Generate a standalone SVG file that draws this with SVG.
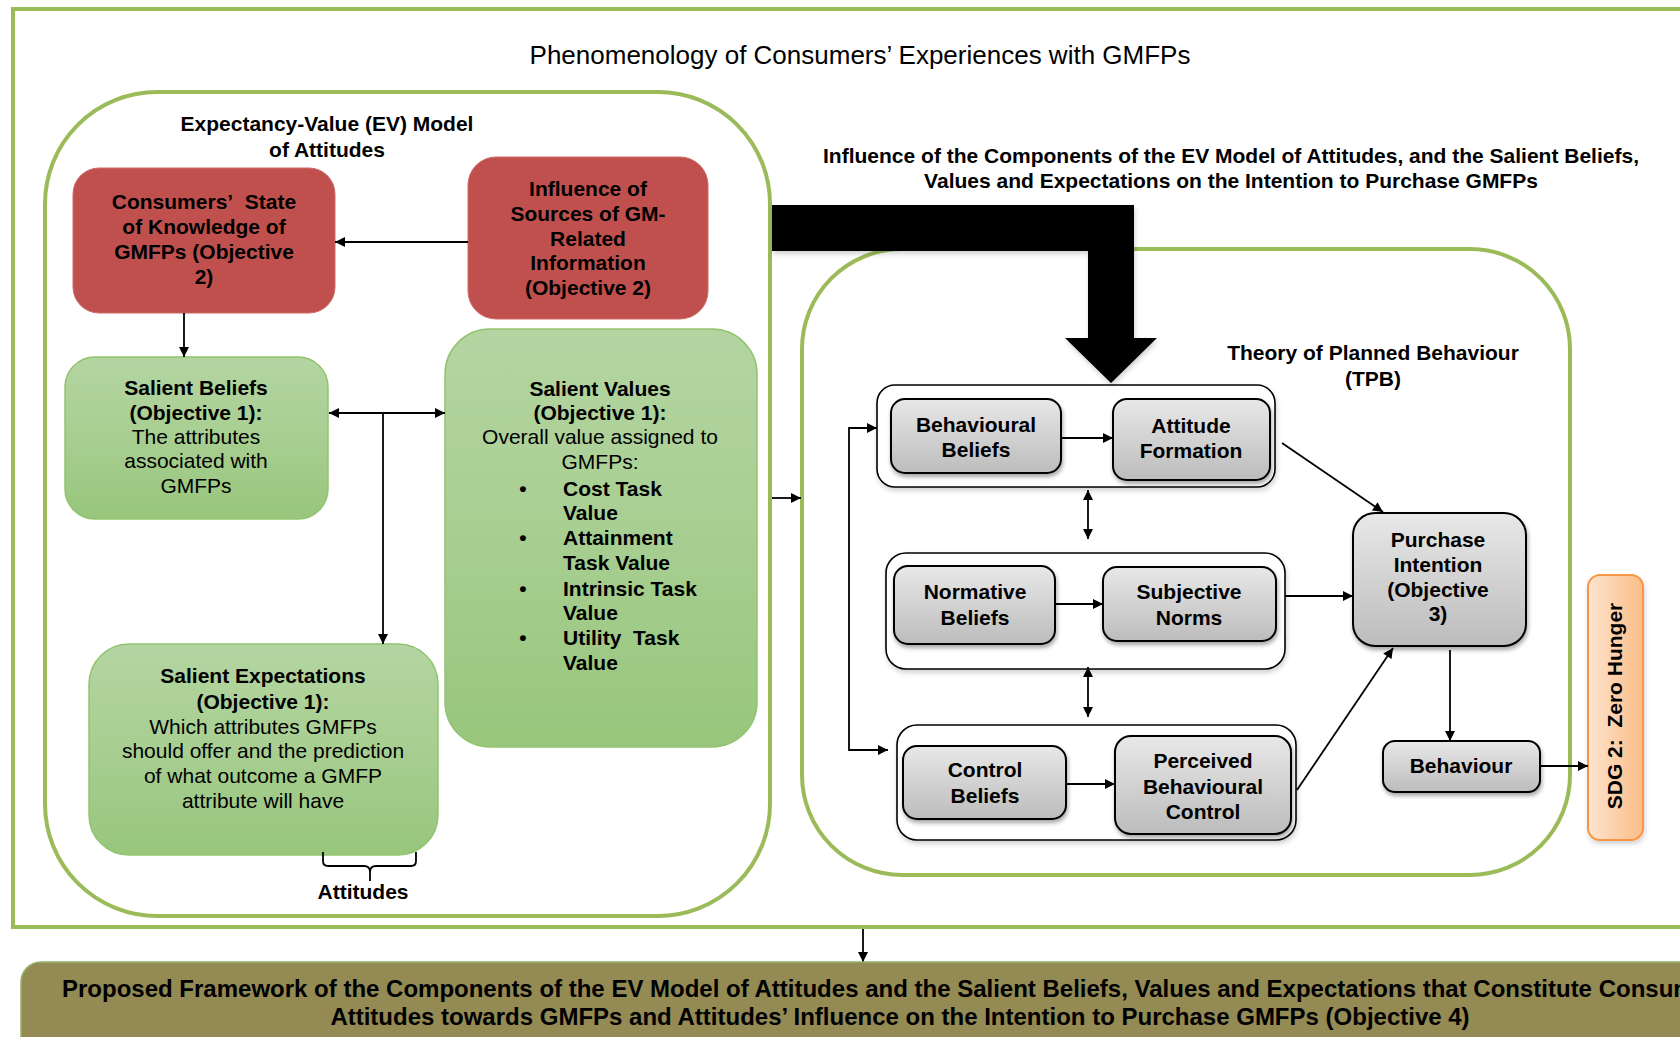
<svg xmlns="http://www.w3.org/2000/svg" width="1680" height="1037" viewBox="0 0 1680 1037">
  <defs>
    <style>
      text { font-family: "Liberation Sans", Arial, Helvetica, sans-serif; fill: #000; }
      .b { font-weight: bold; font-size: 21px; }
      .r { font-size: 21px; }
      .big { font-weight: bold; font-size: 24px; }
      .mid { text-anchor: middle; }
      .frame { fill: none; stroke: #9bbb59; stroke-width: 4; }
      .red { fill: #c0504d; stroke: #cc6a67; stroke-width: 1; }
      .green { fill: url(#greenGrad); stroke: #92c36f; stroke-width: 1.5; }
      .gray { fill: url(#grayGrad); stroke: #000; stroke-width: 2; filter: url(#shadow); }
      .grp { fill: #fff; stroke: #000; stroke-width: 1.6; filter: url(#shadowLight); }
      .conn { fill: none; stroke: #000; stroke-width: 1.8; }
    </style>
    <linearGradient id="greenGrad" x1="0" y1="0" x2="0" y2="1">
      <stop offset="0" stop-color="#b4d5a2"/>
      <stop offset="0.45" stop-color="#a9cf93"/>
      <stop offset="1" stop-color="#98c67c"/>
    </linearGradient>
    <linearGradient id="grayGrad" x1="0" y1="0" x2="0" y2="1">
      <stop offset="0" stop-color="#e8e8e8"/>
      <stop offset="1" stop-color="#bcbcbc"/>
    </linearGradient>
    <linearGradient id="orangeGrad" x1="0" y1="0" x2="1" y2="0">
      <stop offset="0" stop-color="#fde4cf"/>
      <stop offset="1" stop-color="#fbbd87"/>
    </linearGradient>
    <filter id="shadow" x="-10%" y="-10%" width="130%" height="140%">
      <feDropShadow dx="1" dy="3" stdDeviation="2" flood-color="#000" flood-opacity="0.35"/>
    </filter>
    <filter id="shadowLight" x="-10%" y="-10%" width="130%" height="140%">
      <feDropShadow dx="1" dy="3" stdDeviation="2.5" flood-color="#000" flood-opacity="0.18"/>
    </filter>
    <marker id="ah" viewBox="0 0 10 10" refX="10" refY="5" markerWidth="11" markerHeight="10" markerUnits="userSpaceOnUse" orient="auto-start-reverse">
      <path d="M0,0 L10,5 L0,10 z" fill="#000"/>
    </marker>
  </defs>

  <rect width="1680" height="1037" fill="#fff"/>

  <!-- outer frame -->
  <g id="phenomenology-frame">
    <rect class="frame" x="13" y="9" width="1700" height="918"/>
    <text x="860" y="64" class="mid" font-size="26">Phenomenology of Consumers’ Experiences with GMFPs</text>
  </g>

  <!-- Expectancy-Value model container -->
  <g id="ev-model">
    <rect class="frame" x="45" y="92" width="725" height="824" rx="112"/>
    <text class="b mid" x="327" y="131">Expectancy-Value (EV) Model</text>
    <text class="b mid" x="327" y="157">of Attitudes</text>
  </g>

  <g id="state-of-knowledge">
    <rect class="red" x="73" y="168" width="262" height="145" rx="26"/>
    <text class="b mid" x="204" y="209">Consumers’&#160; State</text>
    <text class="b mid" x="204" y="234">of Knowledge of</text>
    <text class="b mid" x="204" y="259">GMFPs (Objective</text>
    <text class="b mid" x="204" y="284">2)</text>
  </g>

  <g id="sources-of-information">
    <rect class="red" x="468" y="157" width="240" height="162" rx="28"/>
    <text class="b mid" x="588" y="196">Influence of</text>
    <text class="b mid" x="588" y="221">Sources of GM-</text>
    <text class="b mid" x="588" y="246">Related</text>
    <text class="b mid" x="588" y="270">Information</text>
    <text class="b mid" x="588" y="295">(Objective 2)</text>
  </g>

  <g id="salient-beliefs">
    <rect class="green" x="65" y="357" width="263" height="162" rx="30"/>
    <text class="b mid" x="196" y="395">Salient Beliefs</text>
    <text class="b mid" x="196" y="420">(Objective 1):</text>
    <text class="r mid" x="196" y="444">The attributes</text>
    <text class="r mid" x="196" y="468">associated with</text>
    <text class="r mid" x="196" y="493">GMFPs</text>
  </g>

  <g id="salient-values">
    <rect class="green" x="445" y="329" width="312" height="418" rx="45"/>
    <text class="b mid" x="600" y="396">Salient Values</text>
    <text class="b mid" x="600" y="420">(Objective 1):</text>
    <text class="r mid" x="600" y="444">Overall value assigned to</text>
    <text class="r mid" x="600" y="469">GMFPs:</text>
    <g class="b">
      <text x="523" y="496" class="mid">•</text>
      <text x="563" y="496">Cost Task</text>
      <text x="563" y="520">Value</text>
      <text x="523" y="545" class="mid">•</text>
      <text x="563" y="545">Attainment</text>
      <text x="563" y="570">Task Value</text>
      <text x="523" y="596" class="mid">•</text>
      <text x="563" y="596">Intrinsic Task</text>
      <text x="563" y="620">Value</text>
      <text x="523" y="645" class="mid">•</text>
      <text x="563" y="645">Utility&#160; Task</text>
      <text x="563" y="670">Value</text>
    </g>
  </g>

  <g id="salient-expectations">
    <rect class="green" x="89" y="644" width="349" height="211" rx="40"/>
    <text class="b mid" x="263" y="683">Salient Expectations</text>
    <text class="b mid" x="263" y="709">(Objective 1):</text>
    <text class="r mid" x="263" y="734">Which attributes GMFPs</text>
    <text class="r mid" x="263" y="758">should offer and the prediction</text>
    <text class="r mid" x="263" y="783">of what outcome a GMFP</text>
    <text class="r mid" x="263" y="808">attribute will have</text>
  </g>

  <g id="attitudes-brace">
    <path d="M323,852 V861 Q323,866 328,866 H364 Q370,866 370,872 V881 M370,872 Q370,866 376,866 H411 Q416,866 416,861 V852" fill="none" stroke="#000" stroke-width="1.8"/>
    <text class="b mid" x="363" y="899">Attitudes</text>
  </g>

  <!-- header of the TPB side -->
  <g id="influence-heading">
    <text class="b mid" x="1231" y="163">Influence of the Components of the EV Model of Attitudes, and the Salient Beliefs,</text>
    <text class="b mid" x="1231" y="188">Values and Expectations on the Intention to Purchase GMFPs</text>
  </g>

  <!-- Theory of Planned Behaviour container -->
  <g id="tpb">
    <rect class="frame" x="802" y="249" width="768" height="626" rx="100"/>
    <text class="b mid" x="1373" y="360">Theory of Planned Behaviour</text>
    <text class="b mid" x="1373" y="386">(TPB)</text>
  </g>

  <g id="attitude-group">
    <rect class="grp" x="877" y="385" width="398" height="102" rx="18"/>
  </g>
  <g id="behavioural-beliefs">
    <rect class="gray" x="891" y="399" width="170" height="74" rx="14"/>
    <text class="b mid" x="976" y="432">Behavioural</text>
    <text class="b mid" x="976" y="457">Beliefs</text>
  </g>
  <g id="attitude-formation">
    <rect class="gray" x="1113" y="399" width="157" height="81" rx="14"/>
    <text class="b mid" x="1191" y="433">Attitude</text>
    <text class="b mid" x="1191" y="458">Formation</text>
  </g>

  <g id="norms-group">
    <rect class="grp" x="886" y="553" width="399" height="116" rx="20"/>
  </g>
  <g id="normative-beliefs">
    <rect class="gray" x="894" y="566" width="161" height="78" rx="14"/>
    <text class="b mid" x="975" y="599">Normative</text>
    <text class="b mid" x="975" y="625">Beliefs</text>
  </g>
  <g id="subjective-norms">
    <rect class="gray" x="1103" y="567" width="173" height="74" rx="14"/>
    <text class="b mid" x="1189" y="599">Subjective</text>
    <text class="b mid" x="1189" y="625">Norms</text>
  </g>

  <g id="control-group">
    <rect class="grp" x="897" y="725" width="399" height="115" rx="20"/>
  </g>
  <g id="control-beliefs">
    <rect class="gray" x="903" y="746" width="163" height="73" rx="14"/>
    <text class="b mid" x="985" y="777">Control</text>
    <text class="b mid" x="985" y="803">Beliefs</text>
  </g>
  <g id="perceived-control">
    <rect class="gray" x="1115" y="736" width="176" height="98" rx="16"/>
    <text class="b mid" x="1203" y="768">Perceived</text>
    <text class="b mid" x="1203" y="794">Behavioural</text>
    <text class="b mid" x="1203" y="819">Control</text>
  </g>

  <g id="purchase-intention">
    <rect class="gray" x="1353" y="513" width="173" height="133" rx="22"/>
    <text class="b mid" x="1438" y="547">Purchase</text>
    <text class="b mid" x="1438" y="572">Intention</text>
    <text class="b mid" x="1438" y="597">(Objective</text>
    <text class="b mid" x="1438" y="621">3)</text>
  </g>

  <g id="behaviour">
    <rect class="gray" x="1383" y="741" width="157" height="51" rx="12"/>
    <text class="b mid" x="1461" y="773">Behaviour</text>
  </g>

  <g id="sdg2">
    <rect x="1588" y="575" width="55" height="265" rx="12" fill="url(#orangeGrad)" stroke="#f79646" stroke-width="2" filter="url(#shadowLight)"/>
    <text class="b mid" transform="translate(1622 706) rotate(-90)">SDG 2:&#160; Zero Hunger</text>
  </g>

  <!-- connectors -->
  <g id="connectors">
    <line class="conn" x1="468" y1="242" x2="335" y2="242" marker-end="url(#ah)"/>
    <line class="conn" x1="184" y1="313" x2="184" y2="357" marker-end="url(#ah)"/>
    <line class="conn" x1="329" y1="413" x2="445" y2="413" marker-start="url(#ah)" marker-end="url(#ah)"/>
    <line class="conn" x1="383" y1="413" x2="383" y2="644" marker-end="url(#ah)"/>
    <line class="conn" x1="772" y1="498" x2="801" y2="498" marker-end="url(#ah)"/>
    <polygon points="772,205 1134,205 1134,338 1157,338 1111,383 1065,338 1088,338 1088,251 772,251" fill="#000" filter="url(#shadowLight)"/>
    <line class="conn" x1="1061" y1="438" x2="1113" y2="438" marker-end="url(#ah)"/>
    <line class="conn" x1="1282" y1="443" x2="1383" y2="512" marker-end="url(#ah)"/>
    <line class="conn" x1="1088" y1="490" x2="1088" y2="539" marker-start="url(#ah)" marker-end="url(#ah)"/>
    <line class="conn" x1="1055" y1="604" x2="1103" y2="604" marker-end="url(#ah)"/>
    <line class="conn" x1="1285" y1="596" x2="1353" y2="596" marker-end="url(#ah)"/>
    <line class="conn" x1="1088" y1="667" x2="1088" y2="717" marker-start="url(#ah)" marker-end="url(#ah)"/>
    <line class="conn" x1="1066" y1="784" x2="1115" y2="784" marker-end="url(#ah)"/>
    <line class="conn" x1="1297" y1="790" x2="1393" y2="648" marker-end="url(#ah)"/>
    <line class="conn" x1="1450" y1="650" x2="1450" y2="741" marker-end="url(#ah)"/>
    <line class="conn" x1="1540" y1="766" x2="1588" y2="766" marker-end="url(#ah)"/>
    <path class="conn" d="M877,428 H849 V750 H888" marker-start="url(#ah)" marker-end="url(#ah)"/>
    <line class="conn" x1="863" y1="929" x2="863" y2="962" marker-end="url(#ah)"/>
  </g>

  <!-- resulting framework banner (runs past the right edge of the page) -->
  <g id="proposed-framework">
    <rect x="21" y="962" width="1700" height="110" rx="20" fill="#948a54" stroke="#8fb46a" stroke-width="1.5"/>
    <text class="big" x="62" y="997">Proposed Framework of the Components of the EV Model of Attitudes and the Salient Beliefs, Values and Expectations that Constitute Consumers’</text>
    <text class="big mid" x="900" y="1025">Attitudes towards GMFPs and Attitudes’ Influence on the Intention to Purchase GMFPs (Objective 4)</text>
  </g>
</svg>
